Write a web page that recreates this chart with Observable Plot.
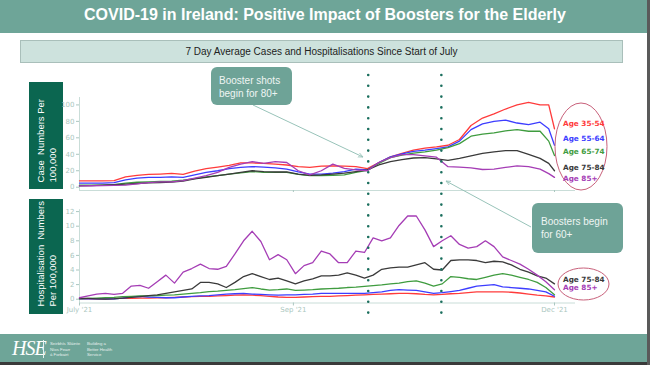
<!DOCTYPE html>
<html><head><meta charset="utf-8">
<script src="https://cdn.jsdelivr.net/npm/d3@7"></script>
<script src="https://cdn.jsdelivr.net/npm/@observablehq/plot@0.6"></script>
<style>
body{margin:0;background:#fff;}
#wrap{position:relative;width:650px;height:365px;overflow:hidden;background:#fff;font-family:"Liberation Sans",Arial,sans-serif;}
#wrap svg{position:absolute;left:0;top:0;}
.abs{position:absolute;box-sizing:border-box;}
.ylab{background:#0b6650;color:#fff;}
.ylab div{position:absolute;left:6px;bottom:7px;writing-mode:vertical-rl;transform:rotate(180deg);white-space:nowrap;font-size:9.5px;line-height:11.5px;}
.ann{background:#6ea397;border-radius:6px;color:#eef5f3;font-size:10px;line-height:13px;}
.leg{position:absolute;font-family:"DejaVu Sans",sans-serif;font-size:7.3px;font-weight:bold;white-space:nowrap;}
.foot{position:absolute;color:#e6f0ee;font-size:4.3px;line-height:5.6px;white-space:nowrap;}
</style></head>
<body>
<div id="wrap">
  <div class="abs" style="left:0;top:0;width:650px;height:33px;background:#6ea598;"></div>
  <div class="abs" style="left:0;top:6px;width:650px;text-align:center;color:#fff;font-weight:bold;font-size:16px;">COVID-19 in Ireland: Positive Impact of Boosters for the Elderly</div>
  <div class="abs" style="left:20px;top:40px;width:603px;height:23px;background:#cde2dd;border:1px solid #a9bfba;text-align:center;font-size:10px;line-height:21px;color:#222;">7 Day Average Cases and Hospitalisations Since Start of July</div>
  <div class="abs ylab" style="left:29px;top:82px;width:34px;height:107px;">
    <div>Case&nbsp; Numbers Per<br>100,000</div>
  </div>
  <div class="abs ylab" style="left:29px;top:199px;width:34px;height:115px;">
    <div>Hospitalisation&nbsp; Numbers<br>Per 100,000</div>
  </div>
  <div id="plots"></div>
  <svg width="650" height="365" style="pointer-events:none">
    <defs><marker id="ah" markerWidth="6" markerHeight="6" refX="5" refY="3" orient="auto"><path d="M0,0.8 L5,3 L0,5.2" fill="none" stroke="#98c3b9" stroke-width="0.8"/></marker></defs>
    <line x1="253" y1="105" x2="363" y2="157" stroke="#98c3b9" stroke-width="1" marker-end="url(#ah)"/>
    <line x1="531" y1="227" x2="446" y2="181" stroke="#98c3b9" stroke-width="1" marker-end="url(#ah)"/>
    <ellipse cx="581" cy="146.5" rx="26" ry="43.5" fill="none" stroke="#c8607a" stroke-width="1"/>
    <ellipse cx="583.5" cy="284" rx="25.5" ry="16" fill="none" stroke="#c8607a" stroke-width="1"/>
  </svg>
  <div class="abs ann" style="left:211px;top:67px;width:81px;height:38px;padding:7px 0 0 8px;">Booster shots<br>begin for 80+</div>
  <div class="abs ann" style="left:532px;top:203px;width:91px;height:50px;padding:12px 0 0 9px;">Boosters begin<br>for 60+</div>
  <div id="legend"></div>
  <div class="abs" style="left:0;top:334px;width:650px;height:28px;background:#6ea598;"></div>
  <div class="abs" style="left:0;top:362px;width:650px;height:3px;background:#3a3a3a;"></div>
  <div class="abs" style="left:647px;top:0;width:3px;height:365px;background:#5a5a5a;"></div>
  <div class="abs" style="left:12px;top:337px;color:#fff;font-family:'Liberation Serif',serif;font-style:italic;font-size:20px;letter-spacing:-1px;">HSE</div>
  <div class="abs" style="left:43px;top:340px;width:1px;height:18px;background:#e6f0ee;"></div>
  <div class="foot" style="left:50px;top:341px;">Seirbhís Sláinte<br>Níos Fearr<br>á Forbairt</div>
  <div class="foot" style="left:87px;top:341px;">Building a<br>Better Health<br>Service</div>
</div>
<script>
// ---- data ----
const ageGroups = ["Age 35-54", "Age 55-64", "Age 65-74", "Age 75-84", "Age 85+"];
const lineColors = ["#ff3b3b", "#3d3dff", "#3f9c3f", "#3a3a3a", "#a53db5"];

// days since start of series (top panel: cases per 100,000)
const topDays = [0,4,8,12,16,20,24,28,32,36,40,44,48,52,56,60,64,68,72,76,80,84,88,92,96,100,104,108,112,116,120,124,128,132,136,140,144,148,152,156,160,163,165];
const casesAge35_54 = [7.8,7.8,7.8,8,12.5,14.5,15.5,16,16.8,15.5,19.5,22.5,24.5,26.5,29.5,29.5,29,28,27,25,24,25.5,26,25.5,25,22.5,30,37,41,45,47.5,49,51,58,75,84,89,95,100,103,100,100,71];
const casesAge55_64 = [5,5,5,5.5,9,11,12,12,12.5,12,15,18,20,22.5,24,25,24.5,23.5,22,18.5,16,16,17,19,22,21,30,37,40.5,43.5,45,47,49,56,70,77,80,81.5,78,76,79,71,51];
const casesAge65_74 = [2.5,2.5,2.5,3,5,6,6.5,7,7.5,8.5,10.5,12.5,14,16,17.5,19,18,18,18,15.5,14,14,14.5,15,18,20.5,29,36,39,41.5,43,45,48,53,62,64.5,66,68.5,70,68,68,56,38.5];
const casesAge75_84 = [1.6,2,2.5,3,3.7,4.5,5.2,5.7,6.3,7.5,10,12,14,16,18,20,19,18.5,18.5,16,14.5,15,16,17,19,21,27,31,33.5,35.5,36,34.5,32.5,35,38,41,43,44.5,44.5,40,35,29,20];
const casesAge85p   = [1.6,1.8,2,2.2,2.5,4,5.5,6.5,6.5,8,11,14,18,24,28,31,29,31,30,20,15,20,28,23,21,20,30,36,39.5,39.5,38,36.5,25,24.5,23.5,21.5,22,24,26,25,22,16.5,12];

// bottom panel: hospitalisations per 100,000
const botDays = [0,3,6,9,12,15,18,21,24,27,30,33,36,39,42,45,48,51,54,57,60,63,66,69,72,75,78,81,84,87,90,93,96,99,102,105,108,111,114,117,120,123,126,129,132,135,138,141,144,147,150,153,156,159,162,165];
const hospAge35_54 = [0.05,0.05,0.05,0.05,0.1,0.1,0.1,0.15,0.15,0.2,0.2,0.25,0.3,0.35,0.4,0.4,0.45,0.5,0.55,0.6,0.55,0.5,0.4,0.3,0.25,0.25,0.3,0.35,0.4,0.4,0.45,0.5,0.55,0.6,0.65,0.7,0.75,0.8,0.8,0.75,0.65,0.6,0.65,0.75,0.8,0.9,1.0,1.0,1.0,1.0,0.95,0.85,0.7,0.55,0.45,0.3];
const hospAge55_64 = [0.05,0.05,0.05,0.05,0.05,0.15,0.3,0.4,0.3,0.25,0.2,0.2,0.3,0.4,0.45,0.5,0.6,0.7,0.75,0.8,0.7,0.65,0.6,0.55,0.6,0.6,0.65,0.7,0.8,0.8,0.8,0.8,0.8,0.8,0.9,1.0,1.2,1.3,1.25,1.2,1.0,0.8,0.9,1.05,1.2,1.5,1.8,1.9,2.0,1.7,1.6,1.5,1.4,1.2,1.0,0.4];
const hospAge65_74 = [0.05,0.1,0.15,0.2,0.25,0.35,0.4,0.45,0.45,0.5,0.55,0.6,0.7,0.8,0.9,1.05,1.1,1.2,1.3,1.45,1.6,1.4,1.25,1.3,1.4,1.2,1.25,1.3,1.4,1.45,1.5,1.6,1.65,1.75,1.85,1.95,2.1,2.2,2.4,2.5,2.2,1.8,2.1,3.1,3.0,2.8,2.7,3.0,3.3,3.5,3.3,3.0,2.7,2.3,1.6,0.6];
const hospAge75_84 = [0.1,0.1,0.05,0,0.05,0.15,0.25,0.35,0.5,0.6,0.8,1.0,1.2,1.4,2.3,2.3,2.1,1.6,2.3,3.1,3.5,3.1,2.7,2.9,2.5,2.1,2.5,2.8,3.2,3.2,3.3,3.6,3.3,2.9,3.3,4.1,4.3,4.4,4.4,4.7,5.0,4.1,4.0,5.3,5.4,5.4,5.3,5.0,5.2,5.1,4.7,4.1,3.7,3.2,2.9,2.1];
const hospAge85p   = [0.2,0.45,0.7,0.8,0.65,0.8,1.8,1.9,1.5,2.4,3.3,2.2,3.7,4.2,4.8,4.2,4.1,4.5,6.2,8.0,9.3,7.9,5.4,6.1,5.4,3.5,4.6,5.0,6.6,6.2,5.0,5.0,6.6,6.4,8.4,8.0,8.4,10.1,11.4,11.4,9.5,7.2,8.0,8.7,7.5,7.0,7.2,8.0,7.2,5.8,5.3,4.8,4.1,3.3,2.4,1.3];

const xTickDays = [0, 74.3, 165];
const xTickLabels = ["July '21", "Sep '21", "Dec '21"];
const topYTicks = [0,20,40,60,80,100];
const botYTicks = [0,2,4,6,8,10,12];
const boosterDays = [100.3, 125.7];   // booster start markers (80+, 60+)
const topLegend = ["Age 35-54","Age 55-64","Age 65-74","Age 75-84","Age 85+"];
const botLegend = ["Age 75-84","Age 85+"];

// ---- build tables ----
function tidy(days, seriesList) {
  const out = [];
  seriesList.forEach((vals, k) => vals.forEach((v, i) => out.push({day: days[i], value: v, group: ageGroups[k]})));
  return out;
}
const topData = tidy(topDays, [casesAge35_54, casesAge55_64, casesAge65_74, casesAge75_84, casesAge85p]);
const botData = tidy(botDays, [hospAge35_54, hospAge55_64, hospAge65_74, hospAge75_84, hospAge85p]);

const axisCol = "#c9ddd8";
const tickCol = "#abc7c0";
const xDomain = [0, 172.3];
const labelOf = new Map(xTickDays.map((d, i) => [d, xTickLabels[i]]));
const colorScale = {domain: ageGroups, range: lineColors};
const common = {width: 650, height: 365, marginLeft: 79, marginRight: 75, style: {background: "transparent", overflow: "visible"}};

const topPlot = Plot.plot({
  ...common, marginTop: 97, marginBottom: 175,
  x: {domain: xDomain, axis: null},
  y: {domain: [-4, 109], axis: null},
  color: colorScale,
  marks: [
    Plot.ruleY([-4], {stroke: axisCol}),
    Plot.ruleX([0], {stroke: axisCol}),
    Plot.axisY({ticks: topYTicks, tickSize: 3, tickPadding: 2, fontSize: 7, fontFamily: "DejaVu Sans", color: tickCol, label: null}),
    Plot.axisX({ticks: xTickDays.slice(1), tickSize: 2, tickFormat: () => "", color: tickCol, label: null}),
    Plot.line(topData, {x: "day", y: "value", z: "group", stroke: "group", strokeWidth: 1.3})
  ]
});
const botPlot = Plot.plot({
  ...common, marginTop: 209.2, marginBottom: 62.5,
  x: {domain: xDomain, axis: null},
  y: {domain: [-0.52, 12.26], axis: null},
  color: colorScale,
  marks: [
    Plot.ruleY([-0.52], {stroke: axisCol}),
    Plot.ruleX([0], {stroke: axisCol}),
    Plot.axisY({ticks: botYTicks, tickSize: 3, tickPadding: 2, fontSize: 7, fontFamily: "DejaVu Sans", color: tickCol, label: null}),
    Plot.axisX({ticks: xTickDays, tickSize: 3, tickPadding: 1, tickFormat: d => labelOf.get(d), fontSize: 7, fontFamily: "DejaVu Sans", color: tickCol, label: null}),
    Plot.line(botData, {x: "day", y: "value", z: "group", stroke: "group", strokeWidth: 1.3})
  ]
});
const dotPlot = Plot.plot({
  ...common, marginTop: 75, marginBottom: 43,
  x: {domain: xDomain, axis: null},
  marks: [
    Plot.ruleX(boosterDays, {stroke: "#1b6f5e", strokeWidth: 2.6, strokeDasharray: "0,10.8", strokeLinecap: "round"})
  ]
});
const host = document.getElementById("plots");
host.append(topPlot, botPlot, dotPlot);

// legends (text labels inside ellipses)
const leg = document.getElementById("legend");
const colorOf = new Map(ageGroups.map((g, i) => [g, lineColors[i]]));
const topLegY = [119, 133.5, 147, 163, 173.5];
topLegend.forEach((g, i) => {
  const s = document.createElement("div"); s.className = "leg";
  s.style.left = "563px"; s.style.top = topLegY[i] + "px"; s.style.color = colorOf.get(g); s.textContent = g; leg.append(s);
});
const botLegY = [274.5, 283];
botLegend.forEach((g, i) => {
  const s = document.createElement("div"); s.className = "leg";
  s.style.left = "563px"; s.style.top = botLegY[i] + "px"; s.style.color = colorOf.get(g); s.textContent = g; leg.append(s);
});
</script>
</body></html>
